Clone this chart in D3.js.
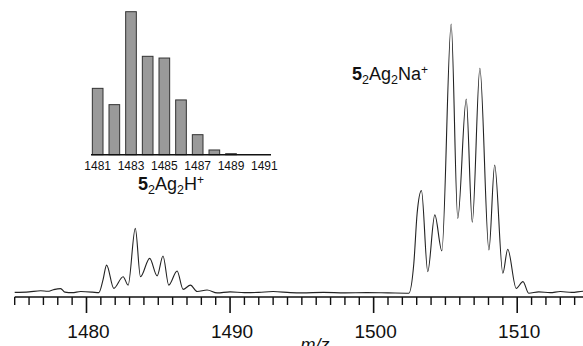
<!DOCTYPE html>
<html>
<head>
<meta charset="utf-8">
<script src="https://cdn.jsdelivr.net/npm/d3@7"></script>
<style>
  body { margin: 0; background: #fff; }
  svg { display: block; font-family: "Liberation Sans", Arial, Helvetica, sans-serif; }
</style>
</head>
<body>
<div id="chart"></div>
<script>
// main spectrum: m/z vs relative intensity (peak 1505.4 = 100)
const specMz = [
  1475, 1476, 1476.8, 1477.3, 1477.7, 1478.2, 1478.5, 1479, 1479.6, 1480.4, 1480.86,
  1481.15, 1481.4, 1481.9, 1482.55, 1482.9, 1483.4, 1483.76, 1484.4, 1484.92, 1485.33,
  1485.73, 1486.31, 1486.73, 1487.24, 1487.71, 1488.4, 1489.1,
  1490, 1491, 1492, 1493, 1494.2, 1495, 1496.5, 1498, 1499.5, 1501, 1502.45,
  1502.8, 1503.03, 1503.33, 1503.77, 1504.26, 1504.75, 1505.4, 1505.86, 1506.45,
  1506.87, 1507.4, 1508.03, 1508.43, 1509.0, 1509.34, 1509.93, 1510.4, 1510.8,
  1511.5, 1512.3, 1513, 1513.8, 1514.6, 1515.2
];
const specInt = [
  0.6, 0.8, 1.2, 1.0, 1.6, 2.0, 0.7, 0.5, 0.9, 0.7, 0.5,
  5.2, 10.7, 2.1, 6.4, 3.3, 24.3, 6.4, 13.2, 6.7, 14.1,
  3.3, 8.5, 1.7, 3.3, 0.9, 1.5, 0.4,
  0.8, 0.5, 0.6, 0.9, 0.5, 0.4, 0.6, 0.4, 0.5, 0.4, 0.3,
  11.4, 29.9, 38.3, 8.3, 29.3, 16.0, 100, 28.0, 72.2,
  26.6, 83.6, 16.3, 47.8, 7.7, 16.6, 2.1, 4.6, 0.3,
  0.8, 0.5, 0.9, 0.6, 1.0, 0.7
];
const mainTicks = [1480, 1490, 1500, 1510];

// inset isotope pattern for 5_2Ag_2H+
const isoMz = [1481, 1482, 1483, 1484, 1485, 1486, 1487, 1488, 1489];
const isoInt = [46.4, 35.0, 100, 68.8, 67.6, 38.3, 14.0, 3.3, 0.7];
const isoTicks = [1481, 1483, 1485, 1487, 1489, 1491];

const W = 583, H = 346;
const svg = d3.select('#chart').append('svg')
  .attr('width', W).attr('height', H);

const x = d3.scaleLinear().domain([1475, 1515]).range([14.7, 589]);
const y = d3.scaleLinear().domain([0, 100]).range([294, 24]);
const axisY = 297;

// ticks: minor every 1, major every 10
const minor = d3.range(1475, 1515, 1).filter(v => v % 10 !== 0);
svg.append('line')
  .attr('x1', x(1475)).attr('x2', W)
  .attr('y1', axisY).attr('y2', axisY)
  .attr('stroke', '#111').attr('stroke-width', 1.6);
svg.append('g').selectAll('line').data(minor).join('line')
  .attr('x1', d => x(d)).attr('x2', d => x(d))
  .attr('y1', axisY).attr('y2', axisY + 8)
  .attr('stroke', '#111').attr('stroke-width', 1.4);
svg.append('g').selectAll('line').data(mainTicks).join('line')
  .attr('x1', d => x(d)).attr('x2', d => x(d))
  .attr('y1', axisY).attr('y2', axisY + 16)
  .attr('stroke', '#111').attr('stroke-width', 1.6);
svg.append('g').selectAll('text').data(mainTicks).join('text')
  .attr('x', d => x(d) + 2).attr('y', 337.5)
  .attr('text-anchor', 'middle')
  .attr('font-size', 19).attr('fill', '#111')
  .text(d => d);

svg.append('text')
  .attr('x', 315).attr('y', 351)
  .attr('text-anchor', 'middle')
  .attr('font-size', 18).attr('font-style', 'italic').attr('fill', '#111')
  .text('m/z');

// spectrum trace
const pts = specMz.map((m, i) => [m, specInt[i]]);
const line = d3.line()
  .x(d => x(d[0]))
  .y(d => y(d[1]))
  .curve(d3.curveMonotoneX);
svg.append('path')
  .datum(pts)
  .attr('fill', 'none')
  .attr('stroke', '#222')
  .attr('stroke-width', 1.1)
  .attr('d', line);

// formula labels: 5_2Ag_2X+
function formula(px, py, ion) {
  const t = svg.append('text')
    .attr('x', px).attr('y', py)
    .attr('text-anchor', 'middle')
    .attr('font-size', 18).attr('fill', '#111');
  t.append('tspan').attr('font-weight', 'bold').text('5');
  t.append('tspan').attr('font-size', 12.5).attr('dy', 4).text('2');
  t.append('tspan').attr('dy', -4).text('Ag');
  t.append('tspan').attr('font-size', 12.5).attr('dy', 4).text('2');
  t.append('tspan').attr('dy', -4).text(ion);
  t.append('tspan').attr('font-size', 12).attr('dy', -6).text('+');
}
formula(390, 80, 'Na');

// inset bar chart
const xi = d3.scaleLinear().domain([1480.6, 1491.4]).range([91, 271]);
const yi = d3.scaleLinear().domain([0, 100]).range([154.7, 11.7]);
const bw = (xi(1482) - xi(1481)) * 0.64;

svg.append('g').selectAll('rect').data(isoMz).join('rect')
  .attr('x', (d, i) => xi(d) - bw / 2)
  .attr('y', (d, i) => yi(isoInt[i]))
  .attr('width', bw)
  .attr('height', (d, i) => yi(0) - yi(isoInt[i]))
  .attr('fill', '#9a9a9a')
  .attr('stroke', '#333')
  .attr('stroke-width', 1);

svg.append('line')
  .attr('x1', xi.range()[0]).attr('x2', xi.range()[1])
  .attr('y1', yi(0)).attr('y2', yi(0))
  .attr('stroke', '#111').attr('stroke-width', 1.6);

svg.append('g').selectAll('text').data(isoTicks).join('text')
  .attr('x', d => xi(d)).attr('y', 170)
  .attr('text-anchor', 'middle')
  .attr('font-size', 12).attr('fill', '#111')
  .text(d => d);

formula(171, 190, 'H');
</script>
</body>
</html>
